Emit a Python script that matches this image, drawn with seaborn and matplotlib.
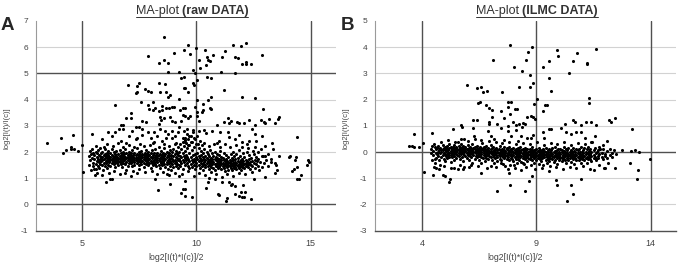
import matplotlib
matplotlib.use("Agg")
import matplotlib.pyplot as plt
from matplotlib.lines import Line2D
import pandas as pd
import seaborn as sns

# -------------------------------
# Data (A = log2[I(t)*I(c)]/2, M = log2[I(t)/I(c)])
# -------------------------------
raw_sparse = [
    (8.61, 6.38), (7.91, 5.65), (9.02, 5.79), (9.48, 5.91), (8.57, 5.50), (8.35, 5.41), (8.78, 5.41),
    (8.77, 5.05), (9.24, 5.05), (9.34, 4.81), (9.48, 4.85), (7.01, 4.57), (7.50, 4.63), (7.43, 4.51),
    (7.37, 4.26), (7.43, 4.30), (7.75, 4.42), (7.87, 4.34), (8.01, 4.28), (8.39, 4.63), (8.64, 4.58),
    (8.42, 4.28), (8.67, 4.29), (8.78, 4.11), (8.84, 4.18), (9.25, 4.04), (9.45, 4.46), (6.43, 3.78),
    (7.59, 3.90), (8.09, 3.92), (7.88, 3.79), (8.20, 3.67), (7.92, 3.65), (8.13, 3.59), (8.49, 3.77),
    (8.66, 3.67), (8.81, 3.69), (8.95, 3.72), (9.04, 3.72), (9.29, 3.62), (9.44, 3.67), (8.35, 3.58),
    (8.52, 3.59), (7.17, 3.49), (7.16, 3.29), (6.91, 3.29), (7.62, 3.18), (7.80, 3.13), (8.46, 3.23),
    (8.42, 3.32), (8.61, 3.31), (8.87, 3.34), (8.95, 3.18), (9.08, 3.15), (9.32, 3.18), (8.35, 3.08),
    (6.72, 3.03), (6.81, 3.02), (9.42, 3.41),
    (9.64, 6.08), (9.97, 5.96), (9.74, 5.75), (11.59, 6.07), (11.94, 6.05), (12.17, 6.17), (10.38, 5.88),
    (11.27, 5.87), (11.12, 5.64), (10.71, 5.69), (10.45, 5.63), (10.51, 5.50), (10.59, 5.46), (11.67, 5.64),
    (11.83, 5.58), (12.87, 5.70), (10.13, 5.52), (12.00, 5.37), (12.17, 5.42), (12.17, 5.35), (12.40, 5.36),
    (10.44, 5.32), (10.16, 5.19), (9.85, 5.14), (9.93, 5.02), (11.09, 5.04), (11.70, 5.00), (10.47, 4.85),
    (10.64, 4.81), (9.84, 4.63), (9.88, 4.56), (9.52, 4.46), (10.03, 4.74), (11.22, 4.38), (9.64, 4.29),
    (12.01, 4.11), (12.55, 4.07), (10.03, 3.97), (10.64, 4.10), (10.49, 4.00), (10.28, 3.83), (10.58, 3.70),
    (10.63, 3.65), (10.31, 3.60), (10.25, 3.53), (9.93, 3.72), (10.01, 3.53), (9.52, 3.67), (12.93, 3.65),
    (9.72, 3.39), (9.64, 3.31), (9.52, 3.36), (10.04, 3.36), (10.10, 3.18), (13.62, 3.35), (13.57, 3.27),
    (11.37, 3.29), (11.53, 3.18), (11.19, 3.15), (11.41, 3.12), (11.77, 3.16), (11.88, 3.12), (12.10, 3.12),
    (12.29, 3.22), (12.84, 3.23), (12.96, 3.16), (13.16, 3.26), (13.01, 3.11), (13.42, 3.11), (10.89, 3.02),
    (12.58, 3.02),
    (3.49, 2.36), (4.11, 2.53), (4.62, 2.66), (4.18, 1.96), (4.30, 2.07), (4.51, 2.19), (4.51, 2.12),
    (4.64, 2.13), (4.85, 2.05), (5.01, 2.27), (5.44, 2.68), (5.07, 1.23), (6.16, 2.78), (6.46, 2.78),
    (6.78, 2.87), (7.36, 2.95), (7.50, 2.95), (7.21, 2.81), (7.65, 2.66), (7.88, 2.75), (8.17, 2.77),
    (8.41, 2.87), (8.64, 2.82), (8.93, 2.81), (9.08, 2.62), (9.40, 2.54), (7.36, 2.49), (7.43, 2.53),
    (6.70, 2.41), (8.09, 2.36), (8.67, 2.52), (8.96, 2.52),
    (5.55, 1.35), (5.58, 1.12), (5.87, 1.12), (6.05, 0.84), (6.22, 0.99), (6.31, 0.96), (6.89, 1.22),
    (7.13, 1.09), (7.39, 1.22), (8.19, 0.96), (8.33, 0.56), (8.87, 0.79), (9.31, 0.43), (9.40, 0.58),
    (9.25, 1.09), (8.74, 1.16),
    (5.90, 2.49), (6.34, 2.62), (6.63, 2.87), (7.07, 2.62), (7.65, 2.87), (8.01, 2.55), (8.30, 2.62),
    (8.52, 2.43), (8.78, 2.69), (9.19, 2.75), (9.25, 2.94), (9.47, 2.81), (9.51, 2.39), (9.10, 2.34),
    (6.92, 2.34),
    (9.52, 0.33), (9.81, 0.30), (10.42, 0.61), (10.95, 0.40), (11.00, 0.38), (11.32, 0.23), (11.29, 0.12),
    (11.70, 0.40), (11.88, 0.33), (11.99, 0.28), (12.08, 0.30), (12.14, 0.46), (12.37, 0.20), (11.96, 0.48),
    (11.41, 0.84), (11.50, 0.76), (11.56, 0.79), (11.70, 0.71), (12.05, 0.76), (11.12, 0.86), (10.51, 0.84),
    (10.54, 1.02), (10.83, 0.96), (12.52, 0.96), (13.01, 1.03), (9.52, 0.58), (9.52, 0.90),
    (13.62, 1.85), (14.03, 1.83), (14.09, 1.85), (14.35, 1.83), (14.41, 2.57), (13.30, 2.34), (13.33, 2.13),
    (13.48, 1.50), (13.54, 1.32), (13.45, 1.22), (13.45, 1.58), (13.28, 1.63), (14.18, 1.27), (14.27, 1.37),
    (14.41, 1.42), (14.59, 1.14), (14.38, 0.99), (14.47, 0.96), (14.33, 1.68), (14.88, 1.70), (14.94, 1.63),
    (14.82, 1.50), (12.98, 1.85), (13.13, 1.93), (12.90, 1.85), (12.81, 2.11), (12.87, 2.62), (13.01, 2.24),
    (12.43, 2.87), (11.85, 2.64), (12.00, 2.39), (12.20, 2.30), (12.28, 2.43), (12.60, 2.43), (12.46, 2.03),
    (12.69, 2.01), (11.38, 2.75), (11.70, 2.49), (10.98, 2.44), (10.89, 2.36), (10.42, 2.72), (10.68, 2.82),
    (11.03, 2.77), (10.33, 2.85), (11.41, 2.57), (12.58, 2.69),
    (9.59, 2.87), (9.69, 2.62), (9.52, 2.47), (9.78, 2.39), (9.87, 2.75), (9.96, 2.49), (10.07, 2.30),
    (9.64, 2.26), (10.10, 2.81),
    # fuzzy edges of the main band
    (5.62, 2.25), (5.95, 2.18), (6.12, 2.30), (6.38, 2.22), (6.58, 2.35), (6.82, 2.20), (7.05, 2.28),
    (7.28, 2.18), (7.52, 2.32), (7.72, 2.22), (7.98, 2.26), (8.15, 2.38), (8.36, 2.20), (8.58, 2.30),
    (8.82, 2.24), (9.05, 2.32), (10.35, 2.35), (10.55, 2.22), (10.78, 2.30), (11.05, 2.20), (11.25, 2.32),
    (11.48, 2.18), (11.72, 2.26), (11.98, 2.20), (12.25, 2.15), (12.55, 2.20),
    (5.68, 1.22), (5.92, 1.30), (6.18, 1.20), (6.42, 1.28), (6.66, 1.18), (6.95, 1.32), (7.22, 1.26),
    (7.48, 1.35), (7.74, 1.24), (8.05, 1.28), (8.28, 1.18), (8.55, 1.25), (8.82, 1.12), (9.08, 1.22),
    (9.36, 1.15), (9.62, 1.26), (9.88, 1.08), (10.12, 1.20), (10.38, 1.12), (10.62, 1.25), (10.88, 1.15),
    (11.14, 1.05), (11.36, 1.18), (11.62, 1.10), (11.86, 1.22), (12.12, 1.15), (12.42, 1.24), (12.72, 1.30),
    (13.15, 1.45), (13.25, 1.75),
]

# dense band: (A, [M values]) columns
raw_band = [
    (5.30, [1.85, 1.52]), (5.35, [2.05, 1.68]), (5.40, [1.30, 1.92]), (5.45, [1.78, 2.12]),
    (5.50, [1.60, 1.45, 1.98]), (5.55, [1.88, 1.72]), (5.60, [1.55, 2.02, 1.36]), (5.65, [1.82, 1.66, 1.95]),
    (5.70, [1.48, 1.74, 2.08]), (5.75, [1.90, 1.62, 1.40]), (5.80, [1.70, 1.85, 2.15, 1.55]),
    (5.85, [1.64, 1.96, 1.78]), (5.90, [1.50, 1.80, 2.02, 1.69]), (5.95, [1.87, 1.58, 1.73]),
    (6.00, [1.76, 1.93, 1.45, 2.10]), (6.05, [1.66, 1.84, 1.57]), (6.10, [1.79, 1.98, 1.62, 1.38]),
    (6.15, [1.70, 1.88, 1.52, 2.05]), (6.20, [1.83, 1.61, 1.74]), (6.25, [1.95, 1.68, 1.47, 1.80]),
    (6.30, [1.72, 1.90, 1.58, 2.12]), (6.35, [1.64, 1.86, 1.77]), (6.40, [1.81, 1.55, 1.99, 1.69]),
    (6.45, [1.74, 1.92, 1.43, 1.63]), (6.50, [1.86, 1.67, 2.04, 1.78]), (6.55, [1.59, 1.82, 1.71]),
    (6.60, [1.93, 1.75, 1.50, 1.66]), (6.65, [1.84, 2.08, 1.62, 1.77]), (6.70, [1.70, 1.96, 1.56]),
    (6.75, [1.80, 1.65, 1.89, 1.42]), (6.80, [1.73, 2.00, 1.60, 1.85]), (6.85, [1.68, 1.91, 1.78]),
    (6.90, [1.83, 1.54, 1.72, 2.10]), (6.95, [1.76, 1.95, 1.63]), (7.00, [1.88, 1.69, 1.48, 1.80]),
    (7.05, [1.74, 2.02, 1.60, 1.92]), (7.10, [1.66, 1.85, 1.77]), (7.15, [1.95, 1.58, 1.71, 1.86]),
    (7.20, [1.79, 1.64, 2.06, 1.45]), (7.25, [1.70, 1.90, 1.82]), (7.30, [1.61, 1.76, 1.98, 1.52]),
    (7.35, [1.87, 1.68, 1.79]), (7.40, [1.73, 1.94, 1.57, 2.14]), (7.45, [1.83, 1.65, 1.76]),
    (7.50, [1.69, 1.88, 1.50, 1.99]), (7.55, [1.78, 1.62, 1.91]), (7.60, [1.85, 1.71, 2.03, 1.56]),
    (7.65, [1.66, 1.80, 1.93]), (7.70, [1.75, 1.60, 1.89, 1.44]), (7.75, [1.82, 1.97, 1.68]),
    (7.80, [1.70, 1.86, 1.55, 2.08]), (7.85, [1.77, 1.63, 1.92]), (7.90, [1.84, 1.69, 1.49, 2.00]),
    (7.95, [1.72, 1.88, 1.59]), (8.00, [1.65, 1.81, 1.95, 1.38]), (8.05, [1.76, 1.58, 2.06]),
    (8.10, [1.89, 1.67, 1.80, 1.52]), (8.15, [1.71, 1.96, 1.62]), (8.20, [1.83, 1.55, 1.74, 2.12]),
    (8.25, [1.68, 1.90, 1.46]), (8.30, [1.78, 1.61, 1.98, 1.85]), (8.35, [1.70, 1.52, 1.87]),
    (8.40, [1.64, 1.93, 1.77, 1.40]), (8.45, [1.82, 1.58, 2.04]), (8.50, [1.73, 1.89, 1.50, 1.66]),
    (8.55, [1.79, 1.96, 1.61]), (8.60, [1.56, 1.85, 1.70, 2.16]), (8.65, [1.75, 1.44, 1.92]),
    (8.70, [1.63, 1.81, 2.02, 1.53]), (8.75, [1.88, 1.68, 1.35]), (8.80, [1.72, 1.57, 1.95, 1.84]),
    (8.85, [1.66, 2.08, 1.48]), (8.90, [1.79, 1.60, 1.90, 1.30]), (8.95, [1.74, 1.99, 1.54]),
    (9.00, [1.86, 1.65, 1.42, 2.12]), (9.05, [1.70, 1.93, 1.58]), (9.10, [1.62, 1.83, 2.05, 1.47]),
    (9.15, [1.77, 1.55, 1.96]), (9.20, [1.89, 1.68, 1.38, 2.20]), (9.25, [1.73, 1.52, 2.00]),
    (9.30, [1.64, 1.86, 2.30, 1.45]), (9.35, [1.80, 1.58, 2.12]), (9.40, [1.70, 1.95, 1.34, 2.40]),
    (9.45, [1.62, 1.84, 2.22]), (9.50, [1.76, 1.50, 2.05, 2.55]), (9.55, [1.68, 1.90, 2.35]),
    (9.60, [1.57, 1.82, 2.14, 2.70]), (9.65, [1.74, 1.46, 2.48]), (9.70, [1.65, 1.97, 2.26, 1.38]),
    (9.75, [1.80, 1.55, 2.60]), (9.80, [1.70, 2.08, 1.42, 2.38]), (9.85, [1.62, 1.88, 2.85]),
    (9.90, [1.75, 1.52, 2.20, 2.52]), (9.95, [1.67, 1.94, 1.36]), (10.00, [1.58, 1.80, 2.30, 1.45]),
    (10.05, [1.72, 1.98, 2.62]), (10.10, [1.64, 1.50, 1.86, 2.15]), (10.15, [1.77, 1.40, 2.42]),
    (10.20, [1.60, 1.90, 1.70, 2.05]), (10.25, [1.68, 1.48, 2.28]), (10.30, [1.82, 1.56, 1.95, 1.33]),
    (10.35, [1.63, 1.74, 2.10]), (10.40, [1.52, 1.86, 1.69, 1.42]), (10.45, [1.78, 1.60, 2.00]),
    (10.50, [1.65, 1.46, 1.92, 1.72]), (10.55, [1.57, 1.84, 1.37]), (10.60, [1.70, 1.50, 2.08, 1.63]),
    (10.65, [1.60, 1.79, 1.44]), (10.70, [1.74, 1.55, 1.95, 1.66]), (10.75, [1.62, 1.40, 1.85]),
    (10.80, [1.53, 1.72, 2.02, 1.30]), (10.85, [1.68, 1.48, 1.80]), (10.90, [1.59, 1.76, 1.45, 1.92]),
    (10.95, [1.66, 1.52, 1.38]), (11.00, [1.56, 1.74, 1.88, 1.43]), (11.05, [1.63, 1.49, 2.05]),
    (11.10, [1.70, 1.54, 1.35, 1.82]), (11.15, [1.60, 1.46, 1.77]), (11.20, [1.52, 1.68, 1.96, 1.40]),
    (11.25, [1.64, 1.50, 1.28]), (11.30, [1.57, 1.73, 1.45, 1.88]), (11.35, [1.66, 1.42, 1.55]),
    (11.40, [1.50, 1.62, 1.80, 1.33]), (11.45, [1.58, 1.71, 1.46]), (11.50, [1.65, 1.40, 1.92, 1.54]),
    (11.55, [1.52, 1.76, 1.30]), (11.60, [1.60, 1.47, 1.69, 2.02]), (11.65, [1.55, 1.84, 1.38]),
    (11.70, [1.63, 1.44, 1.74, 1.50]), (11.75, [1.58, 1.92, 1.35]), (11.80, [1.67, 1.52, 1.45, 1.78]),
    (11.85, [1.56, 2.08, 1.40]), (11.90, [1.62, 1.48, 1.86]), (11.95, [1.70, 1.55, 1.32]),
    (12.00, [1.58, 1.75, 1.44]), (12.05, [1.65, 1.50, 1.95]), (12.10, [1.54, 1.82, 1.38]),
    (12.15, [1.60, 1.70, 1.46]), (12.20, [1.66, 1.52, 2.00]), (12.25, [1.58, 1.42]),
    (12.30, [1.73, 1.55, 1.88]), (12.35, [1.62, 1.36]), (12.40, [1.50, 1.78]), (12.45, [1.67, 1.45]),
    (12.50, [1.58, 1.92]), (12.55, [1.70, 1.40]), (12.60, [1.55, 1.82]), (12.65, [1.64]),
    (12.70, [1.48, 1.75]), (12.80, [1.62]), (12.85, [1.86, 1.42]), (12.95, [1.58]), (13.05, [1.70]),
]

ilmc_sparse = [
    (7.83, 4.07), (7.10, 3.52), (8.02, 3.23), (8.38, 3.09), (8.26, 2.49), (5.97, 2.57), (6.40, 2.44),
    (6.56, 2.47), (6.66, 2.29), (6.85, 2.34), (7.52, 2.29), (6.43, 1.86), (6.55, 1.90), (6.81, 1.78),
    (6.91, 1.69), (7.04, 1.62), (7.77, 1.90), (7.89, 1.90), (7.74, 1.73), (8.08, 1.64), (8.15, 1.64),
    (7.45, 1.55), (7.83, 1.45), (7.06, 1.32), (7.57, 1.30), (6.23, 1.21), (6.39, 1.21), (6.95, 1.16),
    (5.70, 1.02), (6.93, 1.06), (7.28, 1.06), (7.97, 1.13), (8.11, 1.03), (8.26, 1.06), (8.41, 1.11),
    (7.74, 1.01),
    (8.81, 4.02), (8.64, 3.82), (8.55, 3.51), (9.89, 3.88), (9.95, 3.66), (10.79, 3.78), (11.61, 3.93),
    (9.54, 3.47), (9.31, 3.26), (10.62, 3.47), (11.20, 3.41), (11.23, 3.36), (10.44, 3.02), (8.71, 2.94),
    (9.57, 2.82), (8.85, 2.62), (8.71, 2.49), (9.64, 2.32), (11.31, 2.07), (11.28, 1.88), (9.01, 2.02),
    (8.90, 1.83), (9.39, 1.81), (9.45, 1.78), (9.29, 1.56), (8.61, 1.34), (8.78, 1.39), (8.84, 1.34),
    (8.93, 1.27), (8.49, 1.06), (10.27, 1.08), (10.62, 1.21), (10.70, 1.13), (10.94, 1.02), (11.17, 1.15),
    (11.40, 1.15), (11.61, 1.02), (12.19, 1.21), (12.28, 1.13), (12.42, 1.30), (13.16, 0.87),
    (3.67, 0.68), (4.42, 0.74), (3.43, 0.25), (3.55, 0.23), (3.67, 0.21), (3.87, 0.19), (4.04, 0.35),
    (4.07, -0.77), (5.35, 0.89), (5.73, 0.96), (6.21, 0.90), (6.87, 0.80), (7.01, 0.61), (4.51, 0.30),
    (4.57, -0.28), (4.51, -0.56), (4.48, -0.88), (4.63, -0.59), (4.76, -0.66), (4.90, -0.89), (5.02, -0.92),
    (5.19, -1.15), (5.24, -1.01), (5.41, -0.61), (7.29, -1.47), (7.83, -1.24), (6.58, -0.79), (5.79, -0.64),
    (7.45, 0.93), (7.74, 0.80), (7.89, 0.63), (8.10, 0.86), (8.32, 0.63), (8.38, 0.94), (6.29, 0.61),
    (5.85, 0.48), (5.56, 0.38), (6.58, 0.46), (7.16, 0.51), (7.60, 0.46), (8.18, 0.42), (5.27, -0.38),
    (5.56, -0.66), (5.85, -0.56), (6.14, -0.51), (6.58, -0.43), (7.01, -0.54), (7.45, -0.41), (7.74, -0.64),
    (8.03, -0.51), (8.32, -0.69), (8.41, -0.43), (7.81, -0.79),
    (13.96, -0.25), (12.74, 0.06), (13.12, 0.03), (13.29, 0.06), (13.50, 0.01), (12.48, -0.09),
    (13.09, -0.42), (13.44, -0.68), (13.41, -1.04), (12.42, -0.60), (11.95, -0.60), (12.01, -0.60),
    (11.52, -0.70), (10.97, -1.04), (9.86, -1.06), (9.89, -1.24), (10.53, -1.24), (10.59, -1.60),
    (10.32, -1.88), (8.52, -1.48), (8.67, -1.11), (8.81, -0.91), (12.07, 0.44), (11.93, 0.26),
    (11.55, 0.62), (11.40, 0.39), (11.78, 0.13), (11.64, 0.01), (11.61, -0.25), (11.11, 0.52),
    (10.94, 0.75), (10.73, 0.77), (10.53, 0.69), (10.30, 0.77), (10.09, 0.90), (9.66, 0.87), (9.57, 0.87),
    (9.31, 0.75), (8.87, 0.67), (8.78, 0.54), (8.58, 0.52), (9.33, 0.54),
    # fuzzy edges of the main band
    (4.85, 0.40), (5.15, 0.45), (5.45, 0.38), (5.72, 0.50), (6.02, 0.42), (6.32, 0.48), (6.62, 0.36),
    (6.92, 0.44), (7.22, 0.40), (7.52, 0.34), (7.82, 0.38), (8.12, 0.30), (8.42, 0.36), (8.72, 0.32),
    (9.02, 0.40), (9.32, 0.28), (9.62, 0.35), (9.92, 0.30), (10.22, 0.38), (10.52, 0.26), (10.82, 0.34),
    (11.12, 0.30), (11.42, 0.40),
    (4.95, -0.55), (5.25, -0.62), (5.65, -0.48), (6.05, -0.58), (6.45, -0.52), (6.85, -0.62), (7.25, -0.58),
    (7.65, -0.55), (8.05, -0.62), (8.55, -0.58), (8.95, -0.66), (9.25, -0.60), (9.55, -0.72), (9.85, -0.58),
    (10.15, -0.66), (10.45, -0.56), (10.75, -0.62), (11.05, -0.52), (11.35, -0.64), (11.75, -0.48),
    (12.15, -0.40),
]

ilmc_band = [
    (4.40, [0.12, -0.05]), (4.45, [0.22, -0.30]), (4.50, [0.05, -0.12]), (4.55, [0.18, -0.40]),
    (4.60, [-0.02, 0.10, -0.22]), (4.65, [0.15, -0.08]), (4.70, [-0.15, 0.25, 0.02]), (4.75, [0.08, -0.30]),
    (4.80, [-0.05, 0.16, -0.48]), (4.85, [0.12, -0.18, 0.00]), (4.90, [0.28, -0.10, 0.06]),
    (4.95, [-0.02, 0.14, -0.26]), (5.00, [0.10, -0.08, 0.20, -0.35]), (5.05, [0.03, -0.15, 0.18]),
    (5.10, [-0.06, 0.12, 0.25, -0.22]), (5.15, [0.07, -0.12, -0.02]), (5.20, [0.15, -0.04, 0.30, -0.18]),
    (5.25, [-0.10, 0.05, 0.20]), (5.30, [0.02, -0.20, 0.12, -0.05]), (5.35, [0.18, -0.08, 0.08]),
    (5.40, [-0.14, 0.04, 0.26, -0.30]), (5.45, [0.10, -0.03, 0.16]), (5.50, [-0.06, 0.20, 0.00, -0.24]),
    (5.55, [0.13, -0.12, 0.06]), (5.60, [0.24, -0.02, -0.16, 0.09]), (5.65, [0.02, 0.15, -0.28]),
    (5.70, [-0.08, 0.10, 0.32, -0.02]), (5.75, [0.05, -0.18, 0.18]), (5.80, [0.14, -0.05, 0.22, -0.34]),
    (5.85, [-0.10, 0.08, 0.00]), (5.90, [0.04, 0.19, -0.15, 0.11]), (5.95, [-0.04, 0.12, -0.22]),
    (6.00, [0.09, -0.10, 0.26, 0.01]), (6.05, [-0.06, 0.16, -0.30]), (6.10, [0.03, -0.14, 0.21, 0.08]),
    (6.15, [0.12, -0.02, -0.20]), (6.20, [-0.08, 0.06, 0.30, -0.40]), (6.25, [0.15, -0.12, 0.02]),
    (6.30, [0.00, 0.18, -0.26, 0.10]), (6.35, [-0.05, 0.08, -0.16]), (6.40, [0.12, -0.20, 0.24, 0.03]),
    (6.45, [-0.10, 0.06, -0.02]), (6.50, [0.16, -0.14, 0.09, -0.32]), (6.55, [0.02, -0.06, 0.20]),
    (6.60, [-0.18, 0.11, 0.00, -0.08]), (6.65, [0.07, -0.24, 0.14]), (6.70, [-0.03, 0.18, -0.12, 0.05]),
    (6.75, [0.10, -0.16, -0.36]), (6.80, [-0.06, 0.04, 0.22, -0.22]), (6.85, [0.13, -0.10, 0.01]),
    (6.90, [-0.02, 0.08, -0.28, 0.17]), (6.95, [0.05, -0.14, -0.05]), (7.00, [-0.20, 0.10, 0.00, 0.26]),
    (7.05, [-0.08, 0.14, -0.30]), (7.10, [0.03, -0.12, 0.20, -0.02]), (7.15, [-0.18, 0.07, -0.40]),
    (7.20, [0.12, -0.06, -0.24, 0.02]), (7.25, [-0.10, 0.16, -0.03]), (7.30, [0.06, -0.20, 0.00, -0.34]),
    (7.35, [-0.12, 0.10, -0.05]), (7.40, [0.02, -0.16, 0.22, -0.26]), (7.45, [-0.07, 0.08, -0.30]),
    (7.50, [0.12, -0.10, -0.02, 0.04]), (7.55, [-0.18, 0.00, -0.44]), (7.60, [0.06, -0.08, 0.18, -0.22]),
    (7.65, [-0.14, 0.03, -0.04]), (7.70, [0.10, -0.26, -0.10, 0.14]), (7.75, [-0.02, -0.18, 0.06]),
    (7.80, [-0.32, 0.04, -0.08, 0.20]), (7.85, [-0.12, 0.08, -0.50]), (7.90, [0.00, -0.22, 0.12, -0.06]),
    (7.95, [-0.15, 0.05, -0.28]), (8.00, [0.02, -0.10, -0.36, 0.16]), (8.05, [-0.20, -0.04, 0.08]),
    (8.10, [0.10, -0.14, -0.28, 0.00]), (8.15, [-0.08, 0.04, -0.42]), (8.20, [-0.18, 0.14, -0.02, -0.25]),
    (8.25, [0.06, -0.12, -0.32]), (8.30, [-0.05, 0.20, -0.20, 0.02]), (8.35, [-0.14, 0.08, -0.38]),
    (8.40, [-0.02, -0.24, 0.12, -0.08]), (8.45, [0.04, -0.16, -0.46]), (8.50, [-0.10, 0.16, -0.28, 0.00]),
    (8.55, [-0.20, 0.06, -0.05]), (8.60, [0.10, -0.14, -0.34, -0.02]), (8.65, [-0.08, 0.02, -0.22]),
    (8.70, [-0.26, 0.12, -0.12, 0.04]), (8.75, [-0.04, -0.18, -0.50]), (8.80, [0.08, -0.10, -0.30, 0.18]),
    (8.85, [-0.16, 0.00, -0.06]), (8.90, [-0.24, 0.06, -0.40, -0.12]), (8.95, [0.02, -0.08, -0.20]),
    (9.00, [-0.14, 0.10, -0.32, -0.04]), (9.05, [-0.22, 0.04, -0.10]), (9.10, [0.00, -0.16, -0.44, 0.14]),
    (9.15, [-0.08, -0.26, 0.06]), (9.20, [-0.18, 0.02, -0.12, -0.36]), (9.25, [0.08, -0.06, -0.24]),
    (9.30, [-0.14, 0.12, -0.02, -0.48]), (9.35, [-0.20, -0.08, 0.04]), (9.40, [0.02, -0.30, -0.12, 0.16]),
    (9.45, [-0.04, -0.18, -0.40]), (9.50, [-0.10, 0.06, -0.26, 0.00]), (9.55, [-0.16, -0.34, 0.10]),
    (9.60, [0.02, -0.08, -0.22, -0.52]), (9.65, [-0.12, 0.08, -0.02]), (9.70, [-0.28, -0.06, 0.14, -0.16]),
    (9.75, [0.00, -0.20, -0.38]), (9.80, [-0.10, 0.04, -0.30, 0.20]), (9.85, [-0.04, -0.16, -0.08]),
    (9.90, [-0.24, 0.06, -0.44, -0.12]), (9.95, [0.10, -0.02, -0.20]), (10.00, [-0.14, -0.30, 0.02, -0.06]),
    (10.05, [-0.08, 0.12, -0.22]), (10.10, [-0.18, 0.00, -0.36, 0.08]), (10.15, [-0.04, -0.12, -0.26]),
    (10.20, [0.04, -0.20, -0.08, 0.18]), (10.25, [-0.14, -0.30, 0.02]), (10.30, [-0.06, 0.10, -0.42]),
    (10.35, [-0.22, -0.02, 0.06]), (10.40, [-0.10, -0.32, 0.14, -0.16]), (10.45, [0.00, -0.24, -0.06]),
    (10.50, [-0.14, 0.08, -0.38]), (10.55, [-0.04, -0.20, 0.02]), (10.60, [-0.28, -0.10, 0.16]),
    (10.65, [-0.16, 0.04, -0.46]), (10.70, [0.00, -0.24, -0.08]), (10.75, [-0.12, 0.10, -0.32]),
    (10.80, [-0.20, -0.04, 0.06]), (10.85, [-0.30, 0.12, -0.14]), (10.90, [-0.06, -0.22, 0.02]),
    (10.95, [-0.16, -0.40, 0.18]), (11.00, [0.00, -0.26, -0.10]), (11.05, [-0.20, 0.08, -0.04]),
    (11.10, [-0.32, -0.14, 0.14]), (11.15, [-0.08, 0.02, -0.24]), (11.20, [-0.18, 0.10, -0.42]),
    (11.25, [-0.02, -0.28, 0.20]), (11.30, [-0.12, 0.04, -0.20]), (11.35, [-0.26, -0.06, 0.12]),
    (11.40, [0.00, -0.16, -0.34]), (11.50, [-0.10, 0.08, -0.24]), (11.55, [-0.20, 0.14]),
    (11.60, [-0.04, -0.30]), (11.70, [-0.14, 0.06, -0.22]), (11.75, [0.18, -0.08]), (11.85, [-0.18, -0.02]),
    (11.90, [0.10, -0.28]), (12.00, [-0.06, -0.16]), (12.10, [0.04, -0.24]), (12.20, [-0.10, 0.12]),
    (12.30, [-0.20, -0.02]), (12.40, [0.08]),
]

titles = [("MA-plot", "(raw DATA)"), ("MA-plot", "(ILMC DATA)")]
panel_letters = ["A", "B"]
x_ticks = [[5, 10, 15], [4, 9, 14]]
x_limits = [(3.0, 16.1), (1.95, 15.1)]
y_limits = [(-1, 7), (-3, 5)]
dark_rows = [[0, 5], [0]]
x_label = "log2[I(t)*I(c)]/2"
y_label = "log2[I(t)/I(c)]"


def to_frame(sparse, band):
    rows = list(sparse)
    for a, ms in band:
        rows += [(a, m) for m in ms]
    return pd.DataFrame(rows, columns=["A", "M"])


frames = [to_frame(raw_sparse, raw_band), to_frame(ilmc_sparse, ilmc_band)]

# -------------------------------
# Figure
# -------------------------------
sns.set_style("white")
plt.rcParams['font.family'] = ['Liberation Sans', 'DejaVu Sans']
plt.rcParams['axes.unicode_minus'] = False  # plain hyphen on "-1", "-2" ...

fig = plt.figure(figsize=(6.79, 2.64), dpi=100)
W, H = 679.0, 264.0
boxes = [(36, 336), (375, 676)]  # axes left/right in pixels
top_px, bottom_px = 21, 230.7

for i, (l, r) in enumerate(boxes):
    ax = fig.add_axes([l / W, 1 - bottom_px / H, (r - l) / W, (bottom_px - top_px) / H])
    sns.scatterplot(data=frames[i], x="A", y="M", ax=ax, color="black", s=5,
                    linewidth=0, marker="o", zorder=3)
    y0, y1 = y_limits[i]
    ax.set_xlim(*x_limits[i])
    ax.set_ylim(y0, y1)
    ax.set_xticks(x_ticks[i])
    ax.set_yticks(list(range(y0, y1 + 1)))
    for y in range(y0 + 1, y1):
        if y in dark_rows[i]:
            ax.axhline(y, color="#505050", lw=1.0, zorder=1)
        else:
            ax.axhline(y, color="#d2d2d2", lw=0.8, zorder=0)
    for x in x_ticks[i]:
        ax.axvline(x, color="#505050", lw=1.0, zorder=1)
    for s in ["top", "right"]:
        ax.spines[s].set_visible(False)
    ax.spines["left"].set_color("#9a9a9a")
    ax.spines["left"].set_linewidth(0.8)
    ax.spines["bottom"].set_color("#505050")
    ax.spines["bottom"].set_linewidth(1.0)
    ax.tick_params(axis="y", length=2.5, width=0.6, color="#9a9a9a", pad=3,
                   labelsize=6, labelcolor="#444444")
    ax.tick_params(axis="x", length=0, pad=6, labelsize=6.5, labelcolor="#444444")
    ax.set_xlabel("")
    ax.set_ylabel("")

    cx = (l + r) / 2 - 10
    fig.text(cx / W, 1 - 257 / H, x_label, ha="center", va="center", fontsize=6.3, color="#444444")
    fig.text((l - 29) / W, 1 - 128 / H, y_label, ha="center", va="center", rotation=90,
             fontsize=5.5, color="#444444")

fig.text(0.5 / W, 1 - 30 / H, panel_letters[0], fontsize=13.5, fontweight="bold", ha="left", va="baseline")
fig.text(341 / W, 1 - 30 / H, panel_letters[1], fontsize=13.5, fontweight="bold", ha="left", va="baseline")

# underlined two-part titles
renderer = fig.canvas.get_renderer()
title_centres = [192, 537]
for (plain, bold), cx in zip(titles, title_centres):
    t1 = fig.text(0, 1 - 14 / H, plain, fontsize=9, color="#333333", ha="left", va="baseline")
    t2 = fig.text(0, 1 - 14 / H, bold, fontsize=9, fontweight="bold", color="#333333",
                  ha="left", va="baseline")
    w1 = t1.get_window_extent(renderer).width
    w2 = t2.get_window_extent(renderer).width
    gap = 3
    x0 = cx - (w1 + gap + w2) / 2
    t1.set_x(x0 / W)
    t2.set_x((x0 + w1 + gap) / W)
    yl = 1 - 16.5 / H
    fig.add_artist(Line2D([x0 / W, (x0 + w1 + gap + w2) / W], [yl, yl],
                          transform=fig.transFigure, color="#333333", lw=0.7))

fig.savefig("out.png", dpi=100)
